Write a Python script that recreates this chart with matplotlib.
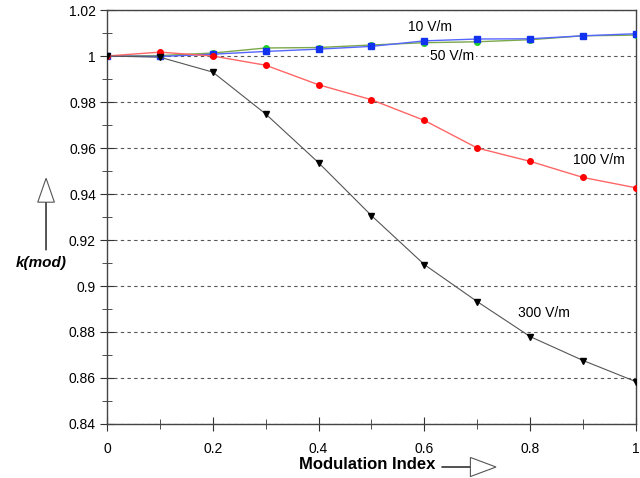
import matplotlib.pyplot as plt
from matplotlib.patches import FancyArrow

plt.rcParams['font.family'] = ['Liberation Sans', 'DejaVu Sans']

mod_index = [0, 0.1, 0.2, 0.3, 0.4, 0.5, 0.6, 0.7, 0.8, 0.9, 1.0]
k_10 = [1.0, 0.9998, 1.0008, 1.0020, 1.0030, 1.0042, 1.0066, 1.0074, 1.0075, 1.0088, 1.0097]
k_50 = [1.0, 1.0002, 1.0013, 1.0035, 1.0037, 1.0048, 1.0058, 1.0062, 1.0071, 1.0088, 1.0091]
k_100 = [1.0, 1.0017, 1.0000, 0.9960, 0.9875, 0.9810, 0.9720, 0.9600, 0.9542, 0.9472, 0.9427]
k_300 = [1.0, 0.9995, 0.9930, 0.9748, 0.9536, 0.9306, 0.9093, 0.8932, 0.8780, 0.8676, 0.8584]

x_ticks = [0, 0.2, 0.4, 0.6, 0.8, 1.0]
x_labels = ['0', '0.2', '0.4', '0.6', '0.8', '1']
y_ticks = [0.84, 0.86, 0.88, 0.90, 0.92, 0.94, 0.96, 0.98, 1.00, 1.02]
y_labels = ['0.84', '0.86', '0.88', '0.9', '0.92', '0.94', '0.96', '0.98', '1', '1.02']

fig = plt.figure(figsize=(6.4, 4.78), dpi=100)
ax = fig.add_axes([0.1672, 0.113, 0.8265, 0.866])

ax.plot(mod_index, k_50, color='#7aa84a', lw=1, marker='o', ms=4,
        mfc='#22dd22', mec='#22cc22', zorder=3)
ax.plot(mod_index, k_10, color='#5566ff', lw=1, marker='s', ms=4,
        mfc='#1133ee', mec='#1133ee', zorder=3)
ax.plot(mod_index, k_100, color='#ff6666', lw=1, marker='o', ms=4,
        mfc='#ff0000', mec='#ff0000', zorder=4)
ax.plot(mod_index, k_300, color='#555555', lw=0.8, marker='v', ms=4.5,
        mfc='black', mec='black', zorder=5)

ax.set_xlim(0, 1)
ax.set_ylim(0.84, 1.02)
ax.set_xticks(x_ticks, x_labels)
ax.set_xticks([0.1, 0.3, 0.5, 0.7, 0.9], minor=True)
ax.set_yticks(y_ticks, y_labels)
ax.set_yticks([0.85, 0.87, 0.89, 0.91, 0.93, 0.95, 0.97, 0.99, 1.01], minor=True)
ax.tick_params(which='both', direction='inout', color='#333333', labelsize=10)
ax.tick_params(which='major', length=10, pad=3)
ax.tick_params(axis='x', which='major', pad=8)
ax.tick_params(which='minor', length=7)
for s in ax.spines.values():
    s.set_color('#444444')
    s.set_linewidth(1)
ax.yaxis.grid(True, which='major', ls=(0, (3, 3)), color='#555555', lw=0.8)
ax.set_axisbelow(True)

ax.text(0.61, 1.0127, '10 V/m', fontsize=10, ha='center', va='center')
ax.text(0.653, 1.0, '50 V/m', fontsize=10, ha='center', va='center',
        bbox=dict(facecolor='white', edgecolor='none', pad=1), zorder=2)
ax.text(0.93, 0.9548, '100 V/m', fontsize=10, ha='center', va='center')
ax.text(0.826, 0.8884, '300 V/m', fontsize=10, ha='center', va='center')

fig.text(0.574, 0.029, 'Modulation Index', fontsize=12, fontweight='bold',
         ha='center', va='center')
fig.text(0.064, 0.45, 'k(mod)', fontsize=11, fontweight='bold', style='italic',
         ha='center', va='center')

# hollow arrows next to the axis titles
fig.add_artist(FancyArrow(0.69, 0.023, 0.085, 0, width=0.0005, head_width=0.04,
                          head_length=0.04, length_includes_head=True,
                          transform=fig.transFigure, fc='white', ec='#555555', lw=0.8))
fig.add_artist(FancyArrow(0.072, 0.477, 0, 0.15, width=0.0008, head_width=0.026,
                          head_length=0.05, length_includes_head=True,
                          transform=fig.transFigure, fc='white', ec='#555555', lw=0.8))

fig.savefig('out.png', dpi=100)
